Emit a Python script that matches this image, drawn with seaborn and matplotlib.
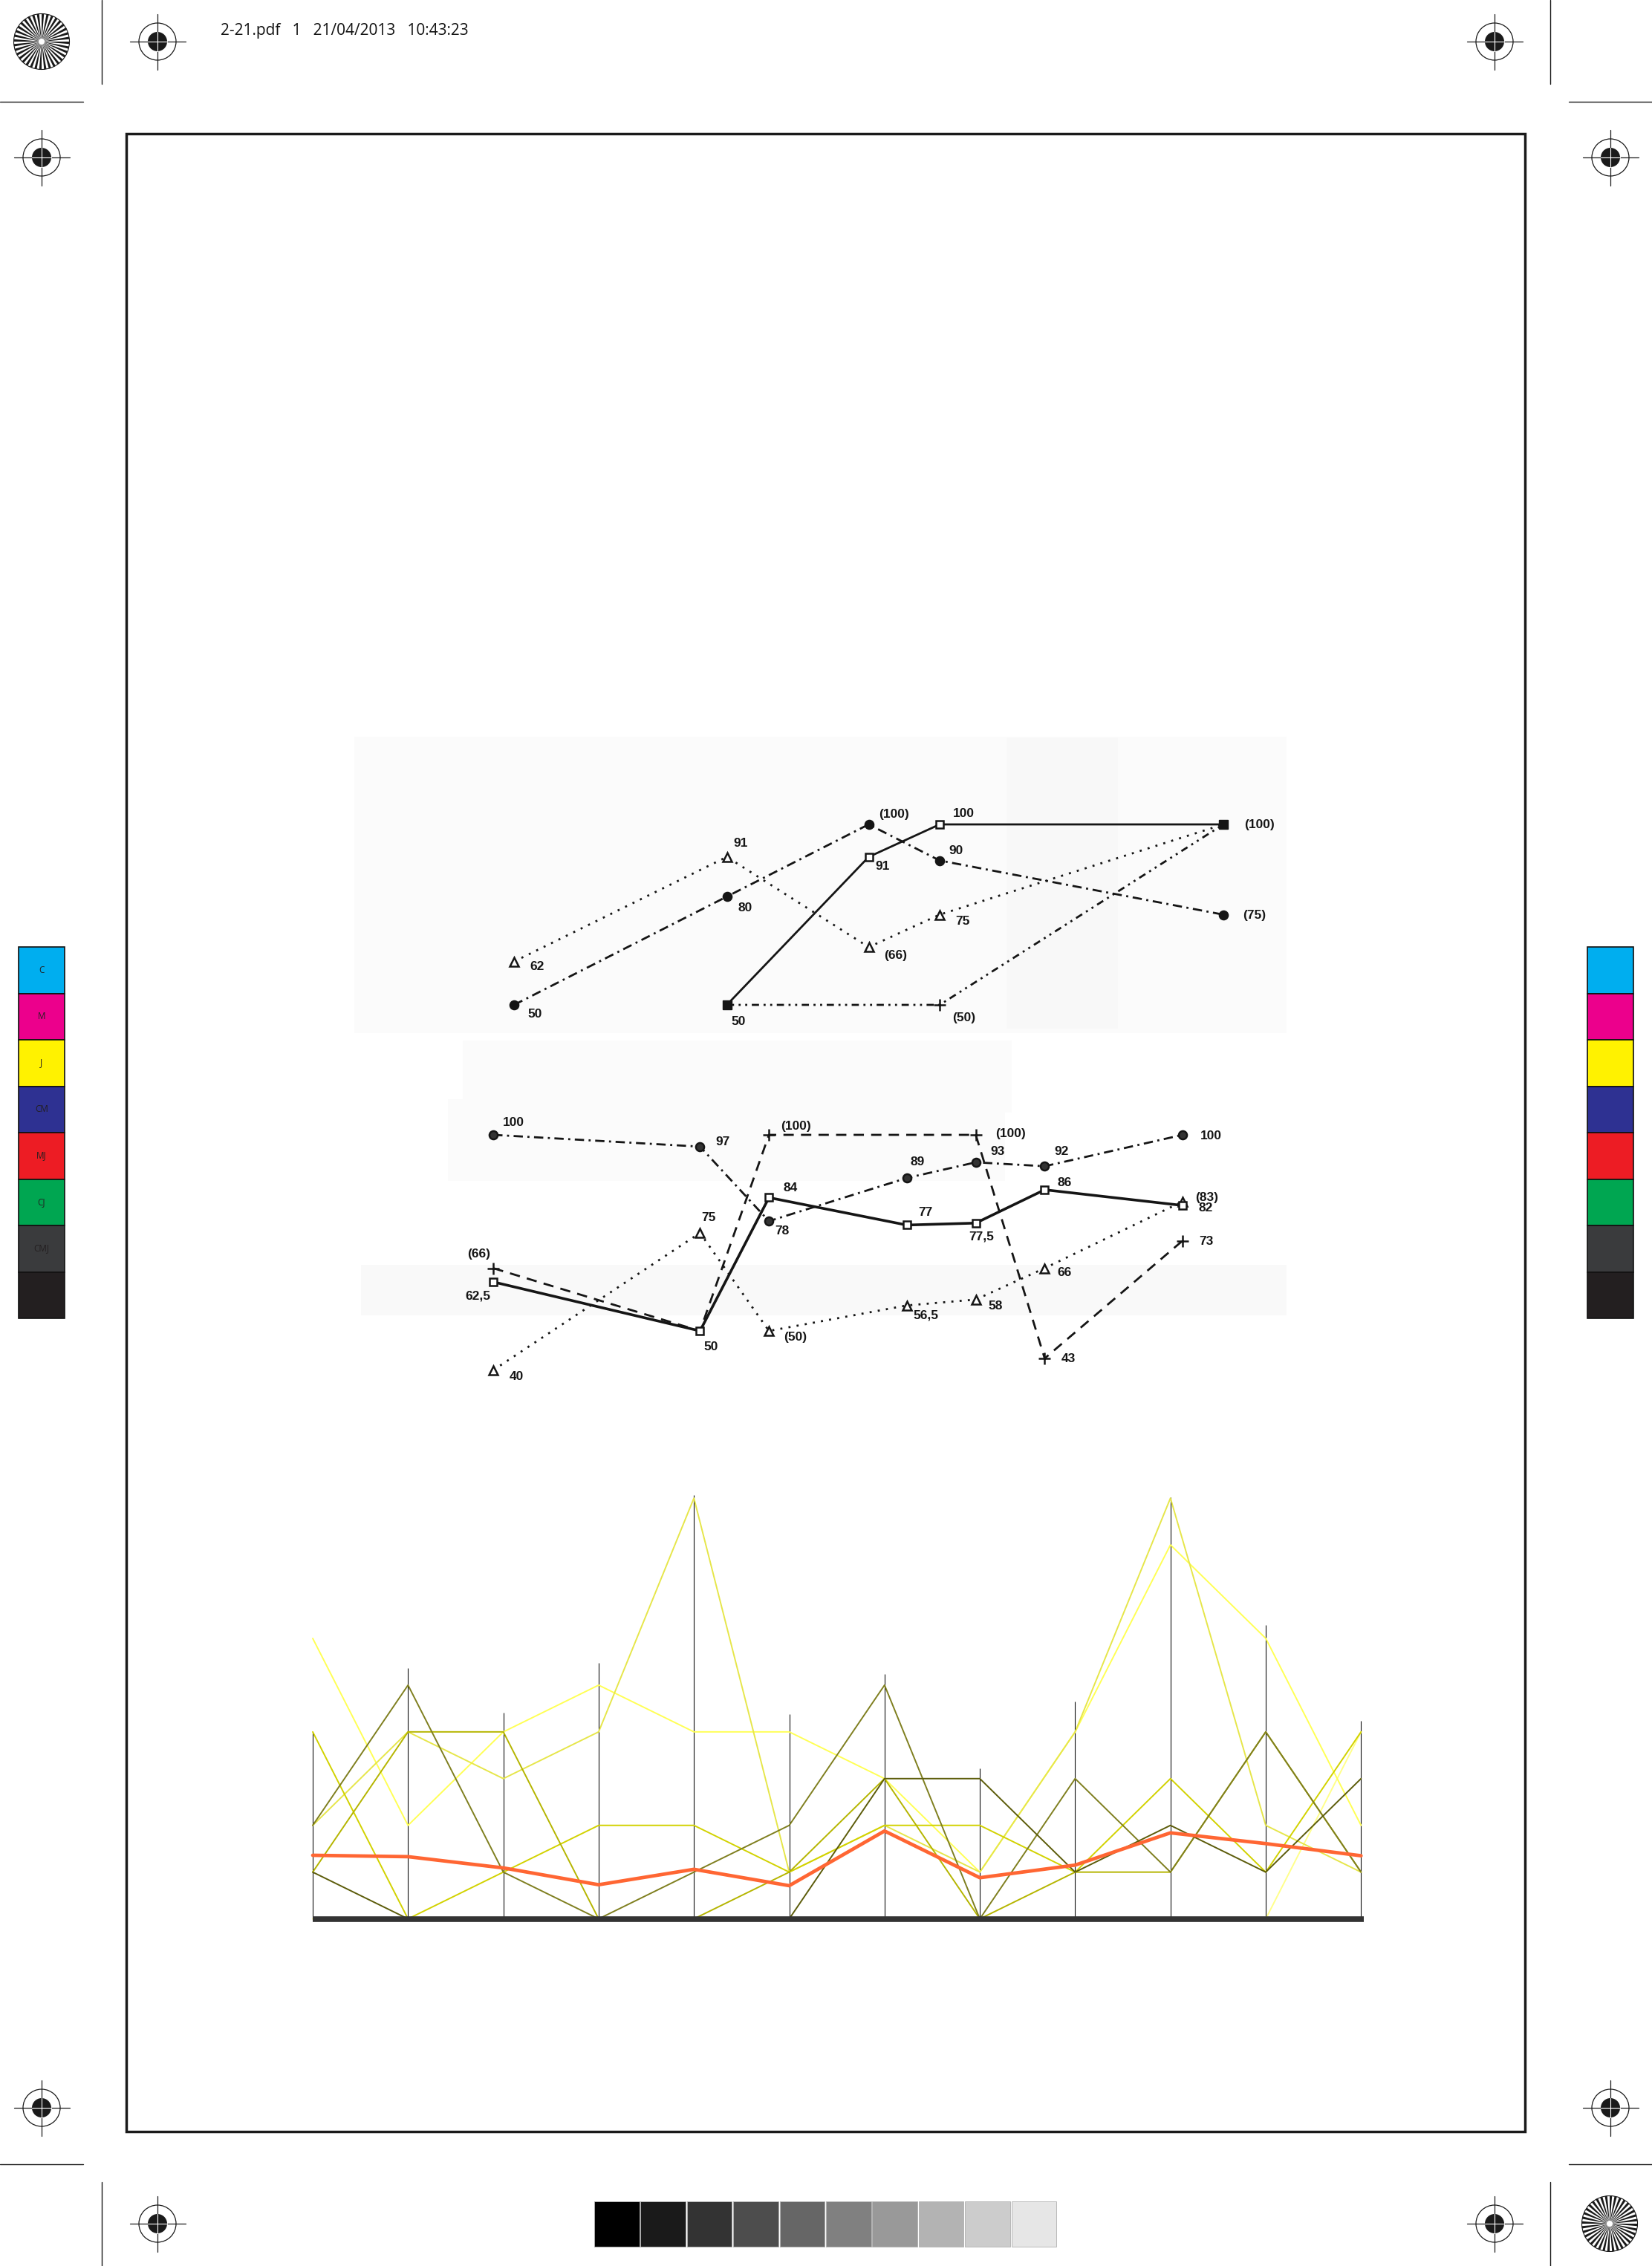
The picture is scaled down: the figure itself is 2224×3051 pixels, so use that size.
import numpy as np
import pandas as pd
import matplotlib
matplotlib.use("Agg")
import matplotlib.pyplot as plt
import seaborn as sns
from matplotlib.patches import Rectangle, Circle, Wedge

sns.set_theme(style="white")
plt.rcParams['font.family'] = ['DejaVu Sans']

W, H = 2224, 3051

# ---------------- upper scanned chart (values as printed next to the points)
top_x_tri = [0, 3, 5, 6, 10]
top_tri = [62, 91, 66, 75, 100]
top_tri_lab = ["62", "91", "(66)", "75", ""]

top_x_circ = [0, 3, 5, 6, 10]
top_circ = [50, 80, 100, 90, 75]
top_circ_lab = ["50", "80", "(100)", "90", "(75)"]

top_x_sq = [3, 5, 6, 10]
top_sq = [50, 91, 100, 100]
top_sq_lab = ["50", "91", "100", "(100)"]
top_sq_filled = [True, False, False, True]

top_x_plus = [3, 6, 10]
top_plus = [50, 50, 100]
top_plus_lab = ["", "(50)", ""]

# ---------------- middle scanned chart
mid_x = [0, 3, 4, 6, 7, 8, 10]
mid_circ = [100, 97, 78, 89, 93, 92, 100]
mid_circ_lab = ["100", "97", "78", "89", "93", "92", "100"]
mid_sq = [62.5, 50, 84, 77, 77.5, 86, 82]
mid_sq_lab = ["62,5", "50", "84", "77", "77,5", "86", "82"]
mid_tri = [40, 75, 50, 56.5, 58, 66, 83]
mid_tri_lab = ["40", "75", "(50)", "56,5", "58", "66", "(83)"]
mid_x_plus = [0, 3, 4, 7, 8, 10]
mid_plus = [66, 50, 100, 100, 43, 73]
mid_plus_lab = ["(66)", "", "(100)", "(100)", "43", "73"]

# ---------------- bottom colour chart (12 columns, levels 0..9)
cols = list(range(12))
line_a = [6, 2, 4, 5, 4, 4, 3, 1, 4, 8, 6, 2]
line_b = [2, 5, 1, 0, 1, 2, 5, 0, 3, 1, 4, 1]
line_c = [2, 4, 3, 4, 9, 1, 2, 1, 4, 9, 2, 1]
line_d = [1, 4, 4, 0, 0, 1, 3, 0, 1, 1, 4, 1]
line_e = [4, 0, 1, 2, 2, 1, 2, 2, 1, 3, 1, 4]
line_f = [1, 0, 0, 0, 0, 0, 3, 3, 1, 2, 1, 3]
line_g = [0, 0, 0, 0, 0, 0, 0, 0, 0, 0, 0, 4]
line_mean = [1.36, 1.33, 1.09, 0.73, 1.06, 0.71, 1.88, 0.88, 1.15, 1.84, 1.61, 1.35]
axis_tops = [4.0, 5.36, 4.41, 5.48, 9.06, 4.38, 5.24, 3.22, 4.65, 9.02, 6.29, 4.24]

# label offsets in pixels (dx right, dy down)
top_tri_off = [(31, 7), (19, -18), (36, 11), (31, 9), (0, 0)]
top_circ_off = [(28, 13), (25, 15), (34, -14), (22, -13), (42, 1)]
top_sq_off = [(16, 23), (19, 13), (32, -14), (49, 1)]
top_plus_off = [(0, 0), (33, 17), (0, 0)]
mid_circ_off = [(27, -17), (31, -6), (18, 13), (14, -22), (29, -14), (23, -20), (38, 2)]
mid_sq_off = [(-21, 19), (15, 22), (29, -13), (25, -17), (8, 18), (27, -9), (31, 3)]
mid_tri_off = [(31, 9), (12, -21), (35, 8), (26, 13), (27, 9), (27, 6), (33, -5)]
mid_plus_off = [(-19, -19), (0, 0), (36, -12), (47, -1), (32, 1), (32, 1)]

ink = '#151515'
lab_font = ['Liberation Sans', 'DejaVu Sans']

fig = plt.figure(figsize=(W / 100, H / 100), dpi=100)
fig.patch.set_facecolor('white')

# page decorations in pixel coordinates
bg = fig.add_axes([0, 0, 1, 1])
bg.set_xlim(0, W)
bg.set_ylim(H, 0)
bg.set_axis_off()

# faint scan background
for (x, y, w, h, c) in [(477, 992, 1255, 399, '#fbfbfb'), (1355, 993, 150, 392, '#f8f8f8'),
                        (623, 1401, 739, 97, '#fbfbfb'), (603, 1480, 750, 110, '#fbfbfb'),
                        (486, 1703, 1246, 68, '#f9f9f9')]:
    bg.add_patch(Rectangle((x, y), w, h, fc=c, ec='none', zorder=0))

bg.add_patch(Rectangle((170, 180), 1883, 2690, fill=False, ec='#1a1a1a', lw=2.5, zorder=2))

crop = [((137, 137), (0, 113)), ((0, 112), (137, 137)),
        ((2087, 2087), (0, 113)), ((2112, 2224), (137, 137)),
        ((137, 137), (2938, 3051)), ((0, 112), (2914, 2914)),
        ((2087, 2087), (2938, 3051)), ((2112, 2224), (2914, 2914))]
for xx, yy in crop:
    bg.plot(xx, yy, color='k', lw=1.0)


def target(cx, cy):
    bg.add_patch(Circle((cx, cy), 25, fill=False, ec='k', lw=0.9))
    bg.add_patch(Circle((cx, cy), 13, fc='k', ec='none'))
    bg.plot([cx - 37.5, cx + 37.5], [cy, cy], color='k', lw=0.9)
    bg.plot([cx, cx], [cy - 37.5, cy + 37.5], color='k', lw=0.9)
    bg.plot([cx - 13, cx + 13], [cy, cy], color='w', lw=0.8)
    bg.plot([cx, cx], [cy - 13, cy + 13], color='w', lw=0.8)


def starburst(cx, cy):
    for i in range(36):
        bg.add_patch(Wedge((cx, cy), 37.5, i * 10, i * 10 + 5, fc='k', ec='none'))
    bg.add_patch(Circle((cx, cy), 37.5, fill=False, ec='k', lw=0.8))
    bg.add_patch(Circle((cx, cy), 4, fc='w', ec='none'))


for p in [(212, 56), (2012, 56), (56, 212), (2168, 212),
          (56, 2838), (2168, 2838), (212, 2994), (2012, 2994)]:
    target(*p)
starburst(56, 56)
starburst(2167, 2994)

bg.text(297, 41, "2-21.pdf   1   21/04/2013   10:43:23", fontsize=15,
        family=['Open Sans', 'DejaVu Sans'], va='center', ha='left', color='#111111')

# colour control strips
cmyk_names = ['C', 'M', 'J', 'CM', 'MJ', 'CJ', 'CMJ', 'N']
cmyk_cols = ['#00aeef', '#ec008c', '#fff200', '#2e3192', '#ed1c24', '#00a651', '#3a3b3d', '#231f20']
for i, (nm, c) in enumerate(zip(cmyk_names, cmyk_cols)):
    y = 1275 + i * 62.5
    bg.add_patch(Rectangle((25, y), 62, 62.5, fc=c, ec='#111111', lw=1.2))
    bg.text(56, y + 31, nm, fontsize=8.5, color='#231f20', ha='center', va='center',
            family=['Open Sans', 'DejaVu Sans'])
    bg.add_patch(Rectangle((2137, y), 62, 62.5, fc=c, ec='#111111', lw=1.2))

gray_steps = [i / 10 for i in range(10)]
for i, g in enumerate(gray_steps):
    bg.add_patch(Rectangle((800 + i * 62.4, 2964), 60.5, 61, fc=(g, g, g), ec='#b0b0b0', lw=0.6))


def data_axes(box, x0, xs, y0, ys, va):
    L, T, R, B = box
    ax = fig.add_axes([L / W, 1 - B / H, (R - L) / W, (B - T) / H])
    ax.set_xlim((L - x0) / xs, (R - x0) / xs)
    ax.set_ylim(va + (y0 - B) / ys, va + (y0 - T) / ys)
    ax.set_axis_off()
    ax.patch.set_alpha(0)
    return ax


def series(ax, xs, ys, labels, offs, ls, marker, ms=8, lw=2.0, mfc='white', markevery=None):
    sns.lineplot(x=xs, y=ys, ax=ax, color=ink, linestyle=ls, linewidth=lw,
                 marker=marker, markersize=ms, markerfacecolor=mfc,
                 markeredgecolor=ink, markeredgewidth=1.8, markevery=markevery,
                 sort=False, estimator=None)
    for x, y, t, (dx, dy) in zip(xs, ys, labels, offs):
        if t:
            ax.annotate(t, (x, y), xytext=(dx, -dy), textcoords='offset pixels',
                        ha='center', va='center', fontsize=12.5, fontweight='bold',
                        family=lab_font, color=ink)


dotted = (0, (1, 3))
dashdot = (0, (4.5, 2.2, 1, 2.2))
dashdotdot = (0, (3.5, 2.2, 1, 2.2, 1, 2.2))
dashed = (0, (5, 3.5))

# upper chart
ax1 = data_axes((560, 1040, 1780, 1420), 692, 95.5, 1353, 4.86, 50)
series(ax1, top_x_tri, top_tri, top_tri_lab, top_tri_off, dotted, '^', markevery=[0, 1, 2, 3])
series(ax1, top_x_circ, top_circ, top_circ_lab, top_circ_off, dashdot, 'o', mfc=ink)
series(ax1, top_x_plus, top_plus, top_plus_lab, top_plus_off, dashdotdot, '+', ms=11, markevery=[1])
series(ax1, top_x_sq, top_sq, top_sq_lab, top_sq_off, '-', 's', ms=7)
fx = [x for x, f in zip(top_x_sq, top_sq_filled) if f]
fy = [y for y, f in zip(top_sq, top_sq_filled) if f]
ax1.plot(fx, fy, ls='none', marker='s', ms=8, mfc=ink, mec=ink)

# middle chart
ax2 = data_axes((560, 1480, 1700, 1880), 664, 92.8, 1792, 5.28, 50)
series(ax2, mid_x, mid_circ, mid_circ_lab, mid_circ_off, dashdot, 'o', mfc='#333333')
series(ax2, mid_x_plus, mid_plus, mid_plus_lab, mid_plus_off, dashed, '+', ms=11,
       markevery=[0, 2, 3, 4, 5])
series(ax2, mid_x, mid_tri, mid_tri_lab, mid_tri_off, dotted, '^')
series(ax2, mid_x, mid_sq, mid_sq_lab, mid_sq_off, '-', 's', ms=7, lw=2.6)

# bottom colour chart
ax3 = data_axes((400, 1990, 1860, 2610), 421, 128.3, 2583.6, 62.94, 0)
ax3.vlines(cols, 0, axis_tops, color='#111111', lw=0.8, zorder=1)
thin = [(line_g, '#ffff8a'), (line_a, '#ffff55'), (line_c, '#e6e64a'), (line_e, '#d2d200'),
        (line_d, '#b5b500'), (line_b, '#7f7f1f'), (line_f, '#5c5c0a')]
for vals, c in thin:
    sns.lineplot(x=cols, y=vals, ax=ax3, color=c, linewidth=1.4, sort=False,
                 estimator=None, zorder=3)
ax3.hlines(0, 0, 11.03, color='#333333', lw=5.5, zorder=5)
sns.lineplot(x=cols, y=line_mean, ax=ax3, color='#ff6633', linewidth=3.4, sort=False,
             estimator=None, zorder=6)
ax3.set_axis_off()

fig.savefig('out.png', dpi=100)
